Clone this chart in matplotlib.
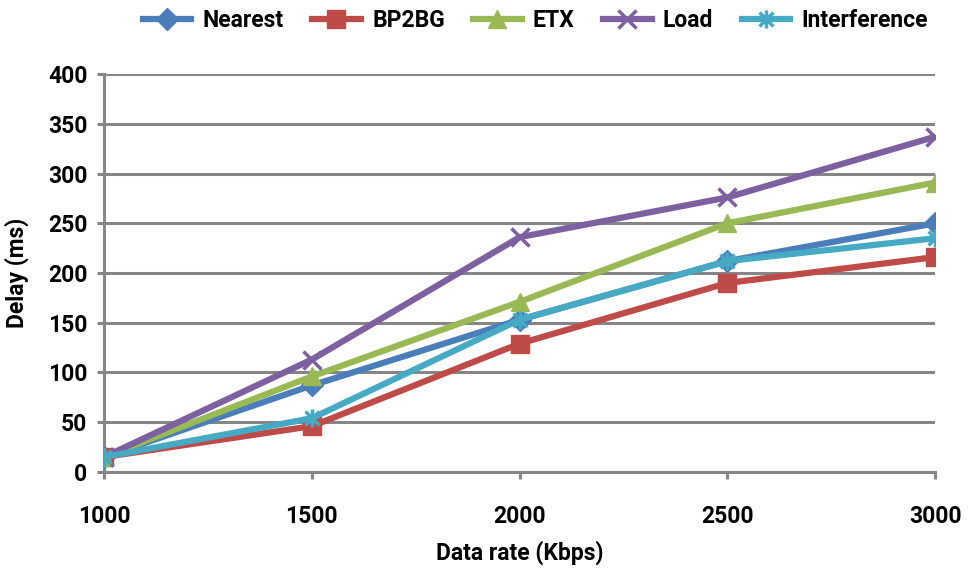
import numpy as np
import matplotlib.pyplot as plt
from matplotlib.path import Path

plt.rcParams['font.family'] = ['Roboto', 'DejaVu Sans']
plt.rcParams['font.weight'] = 'bold'

rates = [1000, 1500, 2000, 2500, 3000]
nearest = [15, 87, 153, 212, 250]
bp2bg = [15, 46, 129, 190, 216]
etx = [15, 96, 171, 250, 291]
load = [15, 113, 236, 276, 337]
interference = [15, 54, 153, 212, 235]

# excel style asterisk: an x plus a vertical bar
star = Path([(-1, -1), (1, 1), (-1, 1), (1, -1), (0, -1.3), (0, 1.3)],
            [Path.MOVETO, Path.LINETO, Path.MOVETO, Path.LINETO, Path.MOVETO, Path.LINETO])

series = [
    ('Nearest', nearest, '#4A7EBB', 'D', 11),
    ('BP2BG', bp2bg, '#BE4B48', 's', 12.5),
    ('ETX', etx, '#98B954', '^', 13.5),
    ('Load', load, '#7D60A0', 'x', 13),
    ('Interference', interference, '#46AAC5', star, 13),
]

fig = plt.figure(figsize=(9.72, 5.70), dpi=100)
ax = fig.add_axes([0.107, 0.172, 0.855, 0.698])

for name, vals, col, mk, ms in series:
    ax.plot(rates, vals, color=col, lw=4.5, marker=mk, markersize=ms,
            markeredgewidth=2.5 if name in ('Load', 'Interference') else 1,
            markeredgecolor=col, label=name, zorder=3)

ax.set_xlim(1000, 3000)
ax.set_ylim(0, 400)
ax.set_xticks(rates)
ax.set_yticks(np.arange(0, 401, 50))
ax.grid(axis='y', color='#868686', lw=2.2)
ax.set_axisbelow(True)
for s in ['top', 'right']:
    ax.spines[s].set_visible(False)
for s in ['left', 'bottom']:
    ax.spines[s].set_color('#868686')
    ax.spines[s].set_linewidth(2.2)
ax.tick_params(axis='both', color='#868686', width=2.2, length=5, labelsize=16.5, pad=7)
ax.tick_params(axis='x', pad=19)
ax.set_xlabel('Data rate (Kbps)', fontsize=16.5, fontweight='bold', labelpad=9)
ax.set_ylabel('Delay (ms)', fontsize=16.5, fontweight='bold', labelpad=14)

fig.legend(loc='upper center', bbox_to_anchor=(0.551, 1.02), ncol=5, frameon=False,
           fontsize=16.5, handlelength=2.1, columnspacing=1.25, handletextpad=0.5)

fig.savefig('out.png', dpi=100)
